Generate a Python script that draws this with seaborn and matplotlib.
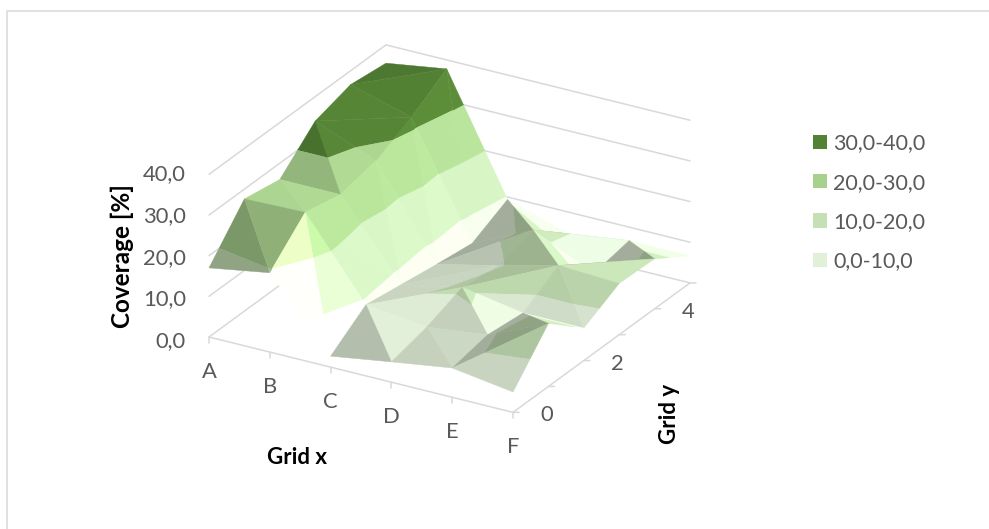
import numpy as np
import matplotlib
matplotlib.use("Agg")
import matplotlib.pyplot as plt
from matplotlib.lines import Line2D
from matplotlib.patches import Patch
from mpl_toolkits.mplot3d import proj3d
from mpl_toolkits.mplot3d.art3d import Poly3DCollection
import seaborn as sns

sns.set_theme(style="white")
plt.rcParams["font.family"] = ["Lato", "DejaVu Sans"]

# Coverage [%] per grid cell: one list per x category, y = 0..5
grid_x = ["A", "B", "C", "D", "E", "F"]
grid_y = [0, 1, 2, 3, 4, 5]
col_a = [17.0, 27.6, 26.0, 34.0, 36.6, 35.5]
col_b = [19.5, 28.0, 26.0, 28.0, 32.3, 37.8]
col_c = [2.7, 9.0, 7.6, 6.2, 5.0, 9.4]
col_d = [5.0, 7.2, 10.6, 9.6, 12.0, 4.7]
col_e = [7.2, 9.0, 8.0, 13.3, 5.0, 6.7]
col_f = [5.0, 15.5, 8.0, 12.6, 12.3, 6.6]
z_ticks = [0, 10, 20, 30, 40]
z_tick_labels = ["0,0", "10,0", "20,0", "30,0", "40,0"]
y_tick_values = [0, 2, 4]
band_edges = [0, 10, 20, 30, 40]
band_labels = ["0,0-10,0", "10,0-20,0", "20,0-30,0", "30,0-40,0"]
band_colors = ["#E2F0D9", "#C5E0B4", "#A9D18E", "#548235"]

GRID = "#D9D9D9"
TEXT = "#595959"
Z_SCALE = 4.47 / 70.0
HIGHLIGHT = np.array([0.65, -0.40, 0.64])


def clip_band(tri, lo, hi):
    """Cut a polygon to the part lying between two heights."""
    def clip(poly, level, keep_above):
        out = []
        for k in range(len(poly)):
            p, q = np.asarray(poly[k]), np.asarray(poly[(k + 1) % len(poly)])
            inside_p = (p[2] >= level) if keep_above else (p[2] <= level)
            inside_q = (q[2] >= level) if keep_above else (q[2] <= level)
            if inside_p:
                out.append(p)
            if inside_p != inside_q:
                t = (level - p[2]) / (q[2] - p[2])
                out.append(p + t * (q - p))
        return out
    poly = clip(list(tri), lo, True)
    if poly:
        poly = clip(poly, hi, False)
    return poly


def shade(tri):
    """Brightness factor for a facet: diffuse term plus a soft highlight."""
    a, b, c = [np.asarray(v, float) * [1, 1, Z_SCALE] for v in tri]
    n = np.cross(b - a, c - a)
    n = n / np.linalg.norm(n)
    if n[2] < 0:
        n = -n
    slope_x = 0.8 if n[0] < 0 else 0.1
    if n[1] >= 0:
        slope_y = 0.1
    else:
        slope_y = 0.35 * (1 - 0.5 * min(max(n[0], 0) / 0.3, 1))
    m = 1.03 + slope_x * n[0] + slope_y * n[1]
    m += 0.42 * np.exp(-(np.linalg.norm(n - HIGHLIGHT) / 0.17) ** 2)
    return np.clip(m, 0.72, 1.5)


Z = np.array([col_a, col_b, col_c, col_d, col_e, col_f])
polys, faces = [], []
for i in range(len(grid_x) - 1):
    for j in range(len(grid_y) - 1):
        p00 = (i, j, Z[i, j])
        p10 = (i + 1, j, Z[i + 1, j])
        p01 = (i, j + 1, Z[i, j + 1])
        p11 = (i + 1, j + 1, Z[i + 1, j + 1])
        # Each cell folds along its higher diagonal
        if p10[2] + p01[2] >= p00[2] + p11[2]:
            tris = ((p00, p10, p01), (p10, p11, p01))
        else:
            tris = ((p00, p10, p11), (p00, p11, p01))
        for tri in tris:
            m = shade(tri)
            for b, base in enumerate(band_colors):
                part = clip_band(tri, band_edges[b], band_edges[b + 1])
                if len(part) >= 3:
                    polys.append(np.array(part))
                    rgb = np.clip(np.array(matplotlib.colors.to_rgb(base)) * m, 0, 1)
                    faces.append(rgb)

W, H = 989, 529
fig = plt.figure(figsize=(W / 100, H / 100), dpi=100)
fig.patch.set_facecolor("white")

# Chart frame: only its top and left edges fall inside the canvas
fig.add_artist(Line2D([6.5 / W, 6.5 / W, 1], [0, 1 - 10.5 / H, 1 - 10.5 / H],
                      transform=fig.transFigure, color=GRID, lw=1.1))

ax = fig.add_axes([0, 0, 1, 1], projection="3d", proj_type="ortho", computed_zorder=False)
ax.view_init(elev=25.2, azim=-59.8)
ax.set_xlim(0, 5)
ax.set_ylim(0, 5)
ax.set_zlim(0, 40)
ax.set_box_aspect((1, 1, 0.511))
ax.set_axis_off()
ax.patch.set_alpha(0)

# Walls and floor edges
for z in z_ticks:
    ax.plot([0, 0], [0, 5], [z, z], color=GRID, lw=1.1, zorder=1)
    ax.plot([0, 5], [5, 5], [z, z], color=GRID, lw=1.1, zorder=1)
ax.plot([0, 5], [0, 0], [0, 0], color=GRID, lw=1.1, zorder=1)
ax.plot([5, 5], [0, 5], [0, 0], color=GRID, lw=1.1, zorder=1)
for i in range(len(grid_x)):
    ax.plot([i, i], [0, 0], [0, -1.5], color=GRID, lw=1.1, zorder=1, clip_on=False)
for j in grid_y:
    ax.plot([5, 5.074], [j, j + 0.043], [0, 0], color=GRID, lw=1.1, zorder=1, clip_on=False)

surface = Poly3DCollection(polys, facecolors=faces, edgecolors=faces, linewidths=0.3, zorder=3)
ax.add_collection3d(surface)


def to_pixels(x, y, z):
    fig.canvas.draw()
    u, v, _ = proj3d.proj_transform(x, y, z, ax.get_proj())
    px, py = ax.transData.transform((u, v))
    return px, H - py


# Fit the axes box so the floor corners fall where the layout wants them
(ax0, ay0), (ax1, ay1) = to_pixels(0, 0, 0), to_pixels(5, 5, 0)
sx = (690 - 209) / (ax1 - ax0)
left = (209 - ax0 * sx) / W
top_px = 337 - ay0 * sx
ax.set_position([left, 1 - (top_px + H * sx) / H, sx, sx])

for z, lab in zip(z_ticks, z_tick_labels):
    px, py = to_pixels(0, 0, z)
    fig.text((px - 23) / W, 1 - (py + 4 - 0.1 * z) / H, lab, ha="right", va="center",
             fontsize=15.8, color=TEXT)
for i, lab in enumerate(grid_x):
    px, py = to_pixels(i, 0, 0)
    fig.text(px / W, 1 - (py + 35) / H, lab, ha="center", va="center", fontsize=15.8, color=TEXT)
for j in y_tick_values:
    px, py = to_pixels(5, j, 0)
    fig.text((px + 34) / W, 1 - (py + 3) / H, str(j), ha="center", va="center", fontsize=15.8, color=TEXT)

fig.text(122 / W, 1 - 256 / H, "Coverage [%]", rotation=90, ha="center", va="center",
         fontsize=17.5, fontweight="bold", color="black")
fig.text(297 / W, 1 - 458 / H, "Grid x", ha="center", va="center",
         fontsize=16, fontweight="bold", color="black")
fig.text(669 / W, 1 - 414 / H, "Grid y", rotation=90, ha="center", va="center",
         fontsize=16, fontweight="bold", color="black")

handles = [Patch(facecolor=c, edgecolor="none", label=l)
           for c, l in zip(band_colors[::-1], band_labels[::-1])]
fig.legend(handles=handles, loc="upper left", bbox_to_anchor=(794 / W, 1 - 114 / H), frameon=False,
           fontsize=15.5, labelcolor=TEXT, handlelength=0.65, handleheight=0.65,
           handletextpad=0.28, labelspacing=0.9)

fig.savefig("out.png", dpi=100)
